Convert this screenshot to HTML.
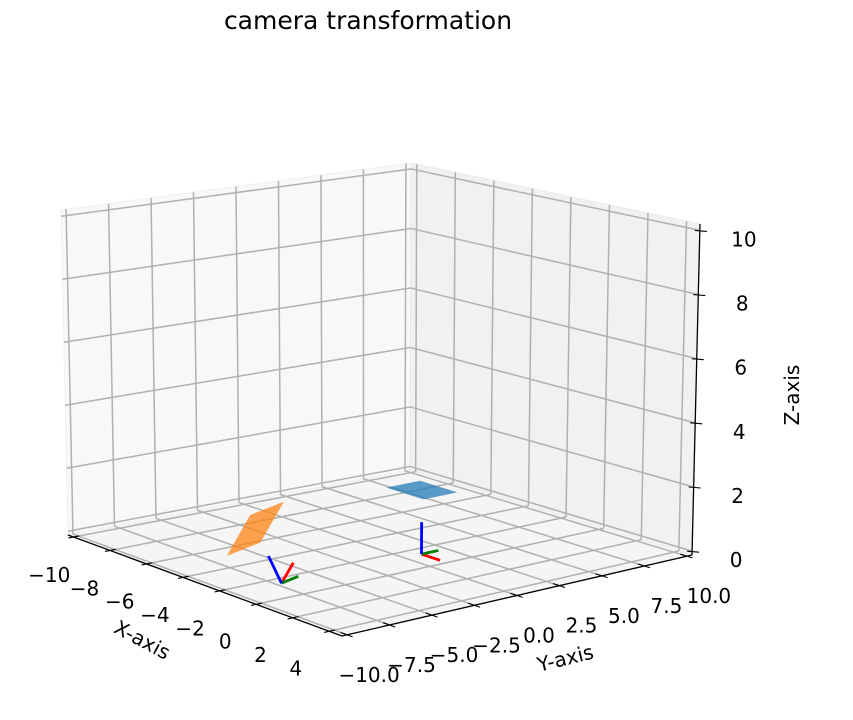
<!DOCTYPE html>
<html><head><meta charset="utf-8"><style>
html,body{margin:0;padding:0;background:#fff;}
svg{display:block;font-family:"DejaVu Sans","Liberation Sans",sans-serif;}
</style></head><body>
<svg id="chart" width="853" height="720" viewBox="0 0 853 720">
<text x="368" y="29" font-size="25" text-anchor="middle" fill="#000">camera transformation</text>
<g id="panes"></g>
<g id="grid"></g>
<g id="marks"></g>
<g id="axes"></g>
<text x="0" y="0" font-size="20" text-anchor="middle" transform="translate(139,646) rotate(28)">X-axis</text>
<text x="0" y="0" font-size="20" text-anchor="middle" transform="translate(567,665) rotate(-14)">Y-axis</text>
<text x="0" y="0" font-size="20" text-anchor="middle" transform="translate(799,395) rotate(-90)">Z-axis</text>
</svg>
<script>
const xTicks = [-10, -8, -6, -4, -2, 0, 2, 4];
const yTicks = [-10, -7.5, -5, -2.5, 0, 2.5, 5, 7.5, 10];
const zTicks = [0, 2, 4, 6, 8, 10];
const xTickLabels = ["−10", "−8", "−6", "−4", "−2", "0", "2", "4"];
const yTickLabels = ["−10.0", "−7.5", "−5.0", "−2.5", "0.0", "2.5", "5.0", "7.5", "10.0"];
const zTickLabels = ["0", "2", "4", "6", "8", "10"];
const xLim = [-10.3, 4.7];
const yLim = [-10.3, 10.3];
const zLim = [-0.12, 10.2];
// camera poses: origin, and rotation axes (red=x, green=y, blue=z)
const camOrigins = [[-1.1, -7.6, 0], [-1, 0.6, 0]];
const camRed = [[0.65, 0, 0.75], [1, 0, 0]];
const camGreen = [[0, 1, 0.1], [0, 1, 0]];
const camBlue = [[-0.2, -0.55, 0.85], [0, 0, 1]];
const focal = [2, 2];
const planeHalf = [1, 1];
const planeColors = ["#ff7f0e", "#1f77b4"];

const NS = "http://www.w3.org/2000/svg";
const A=[68,535],B=[342,636],C=[692,555],D=[410,470];
const At=[61,210],Bt=[342,286],Ct=[700,224],Dt=[411,163];
function bil(p,q,r,s,u,v){
  return [p[0]*(1-u)*(1-v)+q[0]*u*(1-v)+r[0]*u*v+s[0]*(1-u)*v,
          p[1]*(1-u)*(1-v)+q[1]*u*(1-v)+r[1]*u*v+s[1]*(1-u)*v];
}
function P(x,y,z){
  const u=(x-xLim[0])/(xLim[1]-xLim[0]);
  const v=(y-yLim[0])/(yLim[1]-yLim[0]);
  const w=(z-zLim[0])/(zLim[1]-zLim[0]);
  const b=bil(A,B,C,D,u,v), t=bil(At,Bt,Ct,Dt,u,v);
  return [b[0]+(t[0]-b[0])*w, b[1]+(t[1]-b[1])*w];
}
function mk(tag,attrs,parent){const e=document.createElementNS(NS,tag);for(const k in attrs)e.setAttribute(k,attrs[k]);parent.appendChild(e);return e;}
function pts(arr){return arr.map(p=>p[0].toFixed(1)+","+p[1].toFixed(1)).join(" ");}
const [x0,x1]=xLim,[y0,y1]=yLim,[z0,z1]=zLim;
const panes=document.getElementById('panes');
let e;
e=mk('polygon',{points:pts([P(x0,y0,z0),P(x0,y1,z0),P(x0,y1,z1),P(x0,y0,z1)]),fill:'#f8f8f8',stroke:'#f0f0f0','stroke-width':1},panes);


e=mk('polygon',{points:pts([P(x0,y1,z0),P(x1,y1,z0),P(x1,y1,z1),P(x0,y1,z1)]),fill:'#f1f1f1',stroke:'#ebebeb','stroke-width':1},panes);


e=mk('polygon',{points:pts([P(x0,y0,z0),P(x1,y0,z0),P(x1,y1,z0),P(x0,y1,z0)]),fill:'#f5f5f5',stroke:'#efefef','stroke-width':1},panes);



const grid=document.getElementById('grid');
function gl(p,q,name){const a=P(...p),b=P(...q);const l=mk('line',{x1:a[0],y1:a[1],x2:b[0],y2:b[1],stroke:'#b0b0b0','stroke-width':1.5},grid);

}
yTicks.forEach(y=>{gl([x0,y,z0],[x0,y,z1],'grid-y-wall');gl([x0,y,z0],[x1,y,z0],'grid-y-floor');});
xTicks.forEach(x=>{gl([x,y1,z0],[x,y1,z1],'grid-x-wall');gl([x,y0,z0],[x,y1,z0],'grid-x-floor');});
zTicks.forEach(z=>{gl([x0,y0,z],[x0,y1,z],'grid-z-left');gl([x0,y1,z],[x1,y1,z],'grid-z-right');});

const marks=document.getElementById('marks');
camOrigins.forEach((o,i)=>{
  const r=camRed[i],g=camGreen[i],bl=camBlue[i],f=focal[i],h=planeHalf[i];
  const c=[0,1,2].map(k=>o[k]+f*bl[k]);
  const corner=(sr,sg)=>P(...[0,1,2].map(k=>c[k]+sr*h*r[k]+sg*h*g[k]));
  const poly=mk('polygon',{points:pts([corner(1,1),corner(-1,1),corner(-1,-1),corner(1,-1)]),fill:planeColors[i],'fill-opacity':0.72},marks);
  
  
  const O=P(...o);
  [[r,'#ff0000','x'],[g,'#008000','y'],[bl,'#0000ff','z']].forEach(([d,col,nm])=>{
    const q=P(o[0]+d[0],o[1]+d[1],o[2]+d[2]);
    const l=mk('line',{x1:O[0],y1:O[1],x2:q[0],y2:q[1],stroke:col,'stroke-width':2.8},marks);
    
    
  });
});

const axes=document.getElementById('axes');
function al(a,b,name,w){const l=mk('line',{x1:a[0],y1:a[1],x2:b[0],y2:b[1],stroke:'#000','stroke-width':w||1.3},axes);

}
function tl(p,txt,name){const t=mk('text',{x:p[0],y:p[1],'font-size':20,'text-anchor':'middle','dominant-baseline':'central',fill:'#000'},axes);t.textContent=txt;

}
al(P(x0,y0,z0),P(x1,y0,z0),'x-axis-line');
al(P(x1,y0,z0),P(x1,y1,z0),'y-axis-line');
al(P(x1,y1,z0),P(x1,y1,z1),'z-axis-line');
xTicks.forEach((x,i)=>{
  al(P(x,y0+0.35,z0),P(x,y0-0.3,z0),'x-tick',1.1);
  const p=P(x,y0,z0);const u=(x-x0)/(x1-x0);
  tl([p[0]-24-10*u,p[1]+38-u],xTickLabels[i],'x-tick-label');
});
yTicks.forEach((y,i)=>{
  al(P(x1-0.35,y,z0),P(x1+0.3,y,z0),'y-tick',1.1);
  const p=P(x1,y,z0);
  tl([p[0]+22,p[1]+40],yTickLabels[i],'y-tick-label');
});
zTicks.forEach((z,i)=>{
  const p=P(x1,y1,z);
  al([p[0]-5,p[1]],[p[0]+7,p[1]+1],'z-tick',1.1);
  tl([p[0]+44,p[1]+9],zTickLabels[i],'z-tick-label');
});
</script>
</body></html>
